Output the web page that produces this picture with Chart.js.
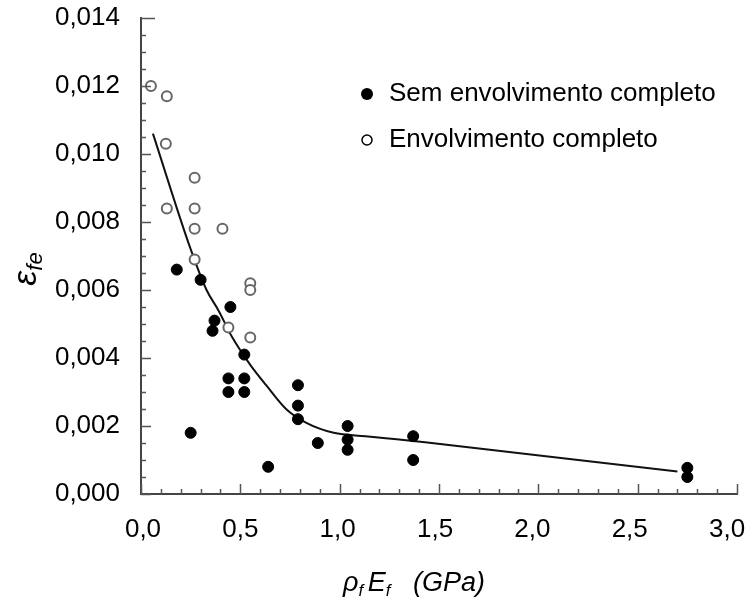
<!DOCTYPE html>
<html>
<head>
<meta charset="utf-8">
<script src="https://cdn.jsdelivr.net/npm/chart.js@4/dist/chart.umd.min.js"></script>
<style>
  html, body { margin: 0; padding: 0; background: #fff; }
  #wrap { width: 749px; height: 599px; }
</style>
</head>
<body>
<div id="wrap"><canvas id="chart" width="749" height="599"></canvas></div>
<script>
// Sem envolvimento completo (filled markers)
const semX = [0.18, 0.30, 0.45, 0.37, 0.36, 0.52, 0.44, 0.52, 0.44, 0.52, 0.79, 0.79, 0.79, 0.25, 0.89, 0.64, 1.04, 1.04, 1.04, 1.37, 1.37, 2.75, 2.75];
const semY = [0.0066, 0.0063, 0.0055, 0.0051, 0.0048, 0.0041, 0.0034, 0.0034, 0.0030, 0.0030, 0.0032, 0.0026, 0.0022, 0.0018, 0.0015, 0.0008, 0.0020, 0.0016, 0.0013, 0.0017, 0.0010, 0.00077, 0.0005];

// Envolvimento completo (open markers)
const envX = [0.05, 0.13, 0.125, 0.27, 0.13, 0.27, 0.27, 0.41, 0.27, 0.55, 0.55, 0.44, 0.55];
const envY = [0.0120, 0.0117, 0.0103, 0.0093, 0.0084, 0.0084, 0.0078, 0.0078, 0.0069, 0.0062, 0.0060, 0.0049, 0.0046];

// fitted trend curve
const curveX = [0.06, 0.25, 0.33, 0.39, 0.46, 0.55, 0.63, 0.73, 0.83, 0.97, 1.13, 1.30, 1.43, 2.70];
const curveY = [0.0106, 0.0072, 0.0060, 0.0054, 0.0046, 0.0038, 0.0032, 0.0025, 0.0021, 0.0018, 0.0017, 0.0016, 0.00152, 0.00066];

const xTicks = [0, 0.5, 1.0, 1.5, 2.0, 2.5, 3.0];
const yTicks = [0, 0.002, 0.004, 0.006, 0.008, 0.010, 0.012, 0.014];

const legendLabels = ["Sem envolvimento completo", "Envolvimento completo"];

const FONT = '"Liberation Sans", Arial, sans-serif';
const toPoints = (xs, ys) => xs.map((v, i) => ({ x: v, y: ys[i] }));

// inward major/minor tick marks along both axes
const axisTicks = {
  id: "axisTicks",
  afterDraw(chart) {
    const { ctx, chartArea: a, scales: { x, y } } = chart;
    ctx.save();
    ctx.strokeStyle = "#555";
    ctx.lineWidth = 1.5;
    ctx.beginPath();
    for (let i = 0; i <= 30; i++) {
      const px = Math.round(x.getPixelForValue(i / 10)) + 0.5;
      const len = i % 5 === 0 ? 10 : 5;
      ctx.moveTo(px, a.bottom);
      ctx.lineTo(px, a.bottom - len);
    }
    for (let i = 0; i <= 28; i++) {
      const py = Math.round(y.getPixelForValue(i * 0.0005)) + 0.5;
      const len = i === 28 ? 14 : (i % 4 === 0 ? 10 : 5);
      ctx.moveTo(a.left, py);
      ctx.lineTo(a.left + len, py);
    }
    ctx.stroke();
    ctx.restore();
  }
};

// legend inside the plot plus both axis titles with subscripts
const annotations = {
  id: "annotations",
  afterDraw(chart) {
    const { ctx } = chart;
    ctx.save();
    ctx.fillStyle = "#000";
    ctx.textBaseline = "middle";
    ctx.font = "26px " + FONT;

    // legend
    ctx.beginPath();
    ctx.arc(367, 94, 6, 0, Math.PI * 2);
    ctx.fill();
    ctx.fillText(legendLabels[0], 389, 94);
    ctx.beginPath();
    ctx.arc(367, 140, 5, 0, Math.PI * 2);
    ctx.strokeStyle = "#000";
    ctx.lineWidth = 1.5;
    ctx.stroke();
    ctx.fillText(legendLabels[1], 389, 140);

    // x title: ρf Ef  (GPa)
    ctx.textBaseline = "alphabetic";
    const big = "italic 27px " + FONT;
    const small = "italic 17px " + FONT;
    const parts = [
      ["ρ", big, 0], ["f", small, 5], [" ", small, 0], ["E", big, 0], ["f", small, 5], ["   (GPa)", big, 0]
    ];
    let total = 0;
    parts.forEach(([t, f]) => { ctx.font = f; total += ctx.measureText(t).width; });
    let cx = 414 - total / 2;
    parts.forEach(([t, f, dy]) => {
      ctx.font = f;
      ctx.fillText(t, cx, 591 + dy);
      cx += ctx.measureText(t).width;
    });

    // y title: εfe
    ctx.translate(36, 269);
    ctx.rotate(-Math.PI / 2);
    const yparts = [["ε", "italic 34px " + FONT, 0], ["fe", "italic 22px " + FONT, 6]];
    total = 0;
    yparts.forEach(([t, f]) => { ctx.font = f; total += ctx.measureText(t).width; });
    cx = -total / 2;
    yparts.forEach(([t, f, dy]) => {
      ctx.font = f;
      ctx.fillText(t, cx, dy);
      cx += ctx.measureText(t).width;
    });
    ctx.restore();
  }
};

new Chart(document.getElementById("chart"), {
  type: "scatter",
  data: {
    datasets: [
      {
        label: legendLabels[0],
        data: toPoints(semX, semY),
        pointRadius: 5.5,
        pointBackgroundColor: "#000",
        pointBorderColor: "#000",
        pointBorderWidth: 1
      },
      {
        label: legendLabels[1],
        data: toPoints(envX, envY),
        pointRadius: 5,
        pointBackgroundColor: "#fff",
        pointBorderColor: "#666",
        pointBorderWidth: 2
      },
      {
        type: "line",
        label: "ajuste",
        data: toPoints(curveX, curveY),
        borderColor: "#111",
        borderWidth: 2,
        pointRadius: 0,
        cubicInterpolationMode: "monotone",
        fill: false
      }
    ]
  },
  options: {
    responsive: false,
    animation: false,
    layout: { padding: { top: 18, right: 12, left: 0, bottom: 0 } },
    plugins: {
      legend: { display: false },
      tooltip: { enabled: false }
    },
    scales: {
      // data axis: carries the axis line, no labels
      x: {
        type: "linear",
        position: "bottom",
        min: 0,
        max: 3,
        afterFit: (s) => { s.height = 0; s.paddingLeft = 0; s.paddingRight = 0; },
        ticks: { display: false },
        grid: { drawOnChartArea: false, drawTicks: false },
        border: { color: "#444", width: 2 }
      },
      // label axis: tick labels sit slightly inside the outer ticks
      xl: {
        type: "linear",
        position: "bottom",
        min: -0.0103,
        max: 3.051,
        afterBuildTicks: (s) => { s.ticks = xTicks.map(v => ({ value: v })); },
        afterFit: (s) => { s.height = 105; s.paddingLeft = 0; s.paddingRight = 0; },
        ticks: {
          color: "#000",
          font: { family: FONT, size: 26 },
          padding: 20,
          maxRotation: 0,
          callback: (v) => Number(v).toFixed(1).replace(".", ",")
        },
        grid: { display: false, drawOnChartArea: false, drawTicks: false },
        border: { display: false }
      },
      y: {
        type: "linear",
        min: 0,
        max: 0.014,
        afterBuildTicks: (s) => { s.ticks = yTicks.map(v => ({ value: v })); },
        afterFit: (s) => { s.width = 141; s.paddingTop = 0; s.paddingBottom = 0; },
        ticks: {
          color: "#000",
          font: { family: FONT, size: 26 },
          padding: 21,
          callback: (v) => Number(v).toFixed(3).replace(".", ",")
        },
        grid: { drawOnChartArea: false, drawTicks: false },
        border: { color: "#444", width: 2 }
      }
    }
  },
  plugins: [axisTicks, annotations]
});
</script>
</body>
</html>
